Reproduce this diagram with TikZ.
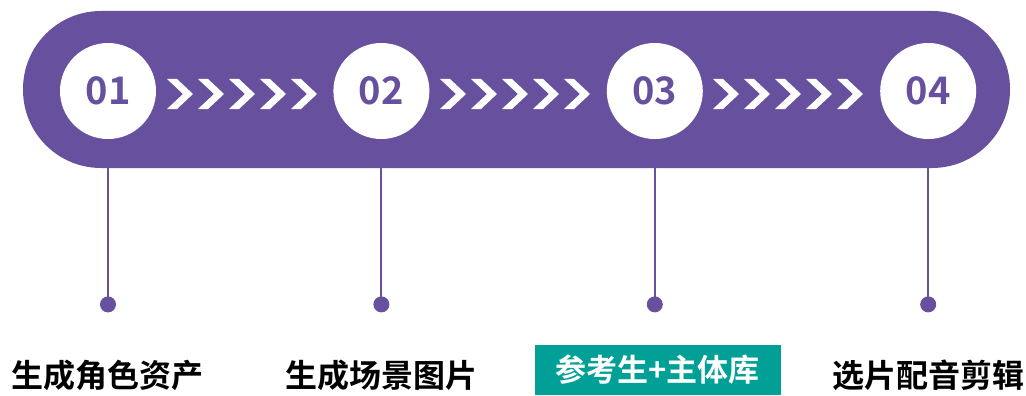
\documentclass[tikz,border=0pt]{standalone}
\usepackage{fontspec}
\usepackage{tikz}
\usetikzlibrary{positioning,calc}
\newfontfamily\cjk{Noto Sans CJK SC}[BoldFont={* Bold}]
\definecolor{bandpurple}{RGB}{103,81,159}
\definecolor{tagteal}{RGB}{0,160,150}
\tikzstyle{band} = [rectangle, rounded corners=78pt, fill=bandpurple, minimum width=987pt, minimum height=157pt, inner sep=0pt]
\tikzstyle{badge} = [circle, fill=white, minimum size=96pt, inner sep=0pt, text=bandpurple, font=\cjk\bfseries\fontsize{38}{38}\selectfont]
\tikzstyle{enddot} = [circle, fill=bandpurple, minimum size=16pt, inner sep=0pt]
\tikzstyle{stemline} = [draw=bandpurple, line width=2pt]
\tikzstyle{caption} = [text=black, inner sep=0pt, font=\cjk\bfseries\fontsize{32}{32}\selectfont]
\tikzstyle{tag} = [rectangle, fill=tagteal, text=white, minimum width=246pt, minimum height=50pt, inner sep=0pt, font=\cjk\bfseries\fontsize{31}{31}\selectfont]

\begin{document}
\begin{tikzpicture}[x=1pt, y=-1pt]
        \useasboundingbox (0,0) rectangle (1026,396);
        % Band -------------------------------------------------------------------------------------
        \node[band](band) at (516.5,89.5){};
        % Steps ------------------------------------------------------------------------------------
        \node[badge](c01) at (108,91){01};
        \node[badge, right=177pt of c01](c02){02};
        \node[badge, right=177pt of c02](c03){03};
        \node[badge, right=177pt of c03](c04){04};
        % Chevrons
        \foreach \x in {167,440,713}{
            \foreach \k in {0,...,4}{
                \fill[white] (\x+31*\k,79) -- ++(10,0) -- ++(16,15) -- ++(-16,15) -- ++(-10,0) -- ++(16,-15) -- cycle;
            }
        }
        % Stems ------------------------------------------------------------------------------------
        \node[enddot, below=157pt of c01](d01){};
        \node[enddot, below=157pt of c02](d02){};
        \node[enddot, below=157pt of c03](d03){};
        \node[enddot, below=157pt of c04](d04){};
        \draw[stemline] (c01 |- band.south) -- (d01.center);
        \draw[stemline] (c02 |- band.south) -- (d02.center);
        \draw[stemline] (c03 |- band.south) -- (d03.center);
        \draw[stemline] (c04 |- band.south) -- (d04.center);
        % Labels -----------------------------------------------------------------------------------
        \node[caption](l01) at (c01 |- 0,375){生成角色资产};
        \node[caption](l02) at (c02 |- 0,375){生成场景图片};
        \node[tag](l03) at ([xshift=3pt]c03 |- 0,370){参考生+主体库};
        \node[caption](l04) at (c04 |- 0,375){选片配音剪辑};
\end{tikzpicture}
\end{document}
